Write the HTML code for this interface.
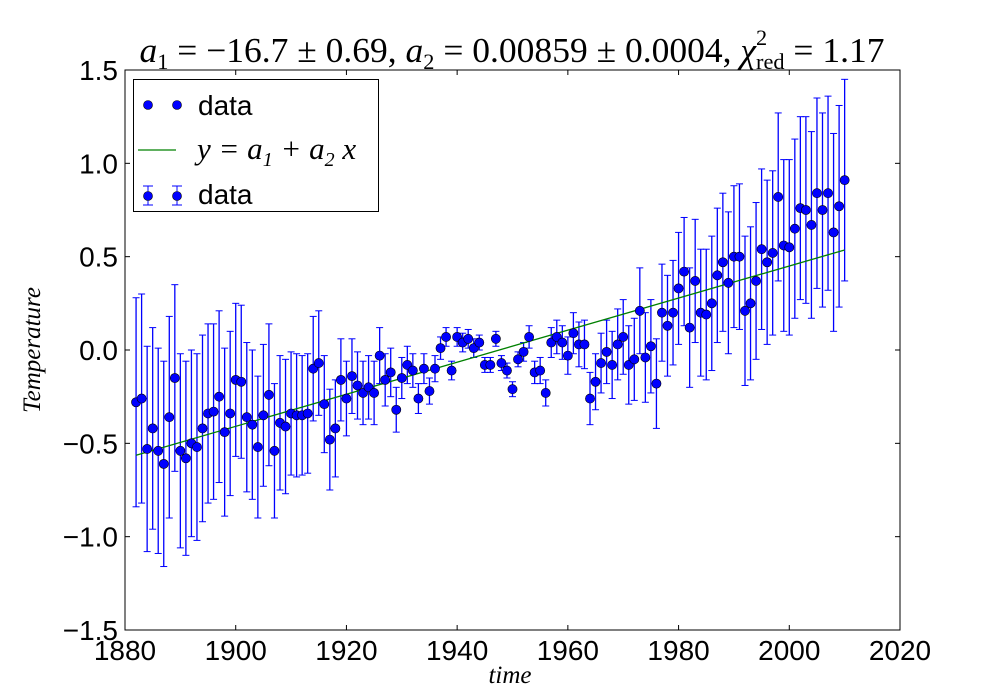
<!DOCTYPE html>
<html><head><meta charset="utf-8"><style>
body{margin:0;background:#fff;}
svg{display:block;}
.tk{font-family:"Liberation Sans",sans-serif;font-size:28px;fill:#000;}
.m{font-family:"Liberation Serif",serif;font-style:italic;}
.r{font-family:"Liberation Serif",serif;}
</style></head><body>
<svg id="chart" width="1000" height="700">
<rect x="0" y="0" width="1000" height="700" fill="#fff"/>
<g id="plot"></g>
<text x="512" y="62" text-anchor="middle" font-size="35" textLength="745" lengthAdjust="spacingAndGlyphs"><tspan class="m">a</tspan><tspan class="r" font-size="22" dy="7">1</tspan><tspan class="r" dy="-7"> = −16.7 ± 0.69, </tspan><tspan class="m">a</tspan><tspan class="r" font-size="22" dy="7">2</tspan><tspan class="r" dy="-7"> = 0.00859 ± 0.0004, </tspan><tspan class="m">χ</tspan><tspan class="r" font-size="22" dy="-17">2</tspan><tspan class="r" font-size="22" dx="-11" dy="24">red</tspan><tspan class="r" dy="-7"> = 1.17</tspan></text>
<text x="510" y="683" text-anchor="middle" class="m" font-size="25">time</text>
<text x="40" y="350" text-anchor="middle" class="m" font-size="25" transform="rotate(-90 40 350)">Temperature</text>
<g>
<rect x="133.5" y="79.5" width="245" height="132" fill="#fff" stroke="#000" stroke-width="1"/>
<g>
<circle cx="148" cy="105" r="4.5" fill="#0000ff" stroke="#000" stroke-width="0.6"/><circle cx="177" cy="105" r="4.5" fill="#0000ff" stroke="#000" stroke-width="0.6"/>
<text x="198" y="115" class="tk" font-size="34">data</text></g>
<g>
<line x1="138" y1="150" x2="176" y2="150" stroke="#008000" stroke-width="1.2"/>
<text x="197" y="159" class="m" font-size="31">y = a<tspan font-size="20" dy="7" class="r">1</tspan><tspan dy="-7"> + a</tspan><tspan font-size="20" dy="7" class="r">2</tspan><tspan dy="-7"> x</tspan></text></g>
<g>
<line x1="148" y1="186" x2="148" y2="205" stroke="#0000ff"/><line x1="143" y1="186" x2="153" y2="186" stroke="#0000ff"/><line x1="143" y1="205" x2="153" y2="205" stroke="#0000ff"/>
<line x1="177" y1="186" x2="177" y2="205" stroke="#0000ff"/><line x1="172" y1="186" x2="182" y2="186" stroke="#0000ff"/><line x1="172" y1="205" x2="182" y2="205" stroke="#0000ff"/>
<circle cx="148" cy="196" r="4.5" fill="#0000ff" stroke="#000" stroke-width="0.6"/><circle cx="177" cy="196" r="4.5" fill="#0000ff" stroke="#000" stroke-width="0.6"/>
<text x="198" y="204" class="tk" font-size="34">data</text></g>
</g>
</svg>
<script>
const startYear = 1882;
const temps = [-0.28,-0.26,-0.53,-0.42,-0.54,-0.61,-0.36,-0.15,-0.54,-0.58,-0.50,-0.52,-0.42,-0.34,-0.33,-0.25,-0.44,-0.34,-0.16,-0.17,
-0.36,-0.40,-0.52,-0.35,-0.24,-0.54,-0.39,-0.41,-0.34,-0.35,-0.35,-0.34,-0.10,-0.07,-0.29,-0.48,-0.42,-0.16,-0.26,-0.14,
-0.19,-0.23,-0.20,-0.23,-0.03,-0.16,-0.12,-0.32,-0.15,-0.08,-0.11,-0.26,-0.10,-0.22,-0.10,0.01,0.07,-0.11,0.07,0.04,
0.06,0.01,0.04,-0.08,-0.08,0.06,-0.07,-0.11,-0.21,-0.05,-0.01,0.07,-0.12,-0.11,-0.23,0.04,0.07,0.04,-0.03,0.09,
0.03,0.03,-0.26,-0.17,-0.07,-0.01,-0.08,0.03,0.07,-0.08,-0.05,0.21,-0.04,0.02,-0.18,0.20,0.13,0.20,0.33,0.42,
0.12,0.37,0.20,0.19,0.25,0.40,0.47,0.36,0.50,0.50,0.21,0.25,0.37,0.54,0.47,0.52,0.82,0.56,0.55,0.65,
0.76,0.75,0.67,0.84,0.75,0.84,0.63,0.77,0.91];
const errors = [0.56,0.56,0.55,0.54,0.55,0.55,0.54,0.50,0.52,0.52,0.50,0.50,0.50,0.48,0.47,0.46,0.45,0.44,0.41,0.41,
0.40,0.40,0.38,0.38,0.38,0.36,0.36,0.36,0.33,0.33,0.32,0.32,0.28,0.28,0.26,0.27,0.26,0.22,0.20,0.20,
0.18,0.17,0.17,0.17,0.15,0.14,0.13,0.12,0.11,0.10,0.09,0.08,0.08,0.07,0.07,0.06,0.05,0.05,0.05,0.05,
0.05,0.05,0.04,0.04,0.04,0.04,0.04,0.04,0.04,0.04,0.05,0.06,0.06,0.07,0.07,0.08,0.09,0.09,0.10,0.11,
0.12,0.13,0.14,0.15,0.16,0.17,0.18,0.19,0.20,0.21,0.22,0.23,0.24,0.25,0.24,0.26,0.27,0.28,0.30,0.29,
0.32,0.33,0.34,0.35,0.36,0.36,0.37,0.38,0.38,0.39,0.40,0.41,0.42,0.43,0.44,0.44,0.45,0.46,0.47,0.48,
0.49,0.50,0.50,0.51,0.52,0.52,0.53,0.54,0.54];
const fitA1 = -16.73;
const fitA2 = 0.00859;
const xTicks = [1880,1900,1920,1940,1960,1980,2000,2020];
const yTicks = [-1.5,-1.0,-0.5,0.0,0.5,1.0,1.5];
const yTickLabels = ["−1.5","−1.0","−0.5","0.0","0.5","1.0","1.5"];

const L=125,R=900,T=70,B=630;
const sx=v=>L+(v-1880)/(2020-1880)*(R-L);
const sy=v=>B-(v+1.5)/3*(B-T);
const NS="http://www.w3.org/2000/svg";
const g=document.getElementById('plot');
function mk(tag,attrs,parent){const e=document.createElementNS(NS,tag);for(const k in attrs)e.setAttribute(k,attrs[k]);(parent||g).appendChild(e);return e;}

const eg=mk('g',{});


temps.forEach((t,i)=>{
  const x=sx(startYear+i),y1=sy(t+errors[i]),y2=sy(t-errors[i]);
  const b=mk('g',{},eg);
  
  
  mk('line',{x1:x,y1:y1,x2:x,y2:y2,stroke:'#0000ff','stroke-width':1.3},b);
  mk('line',{x1:x-3.5,y1:y1,x2:x+3.5,y2:y1,stroke:'#0000ff','stroke-width':1},b);
  mk('line',{x1:x-3.5,y1:y2,x2:x+3.5,y2:y2,stroke:'#0000ff','stroke-width':1},b);
});
const x0=startYear,x1=startYear+temps.length-1;
const fl=mk('line',{x1:sx(x0),y1:sy(fitA1+fitA2*x0),x2:sx(x1),y2:sy(fitA1+fitA2*x1),stroke:'#008000','stroke-width':1.3});


const pg=mk('g',{});


temps.forEach((t,i)=>{
  const c=mk('circle',{cx:sx(startYear+i),cy:sy(t),r:4.6,fill:'#0000ff',stroke:'#000','stroke-width':0.6},pg);
  
  
});
const fr=mk('rect',{x:L,y:T,width:R-L,height:B-T,fill:'none',stroke:'#000','stroke-width':1});


xTicks.forEach(v=>{
  const x=sx(v);
  mk('line',{x1:x,y1:B,x2:x,y2:B-5,stroke:'#000'});
  mk('line',{x1:x,y1:T,x2:x,y2:T+5,stroke:'#000'});
  const t=mk('text',{x:x,y:B+30,'text-anchor':'middle','class':'tk'});
  t.textContent=v;
  
  
});
yTicks.forEach((v,i)=>{
  const y=sy(v);
  mk('line',{x1:L,y1:y,x2:L+5,y2:y,stroke:'#000'});
  mk('line',{x1:R,y1:y,x2:R-5,y2:y,stroke:'#000'});
  const t=mk('text',{x:L-7,y:y+10,'text-anchor':'end','class':'tk'});
  t.textContent=yTickLabels[i];
  
  
});
</script>
</body></html>
